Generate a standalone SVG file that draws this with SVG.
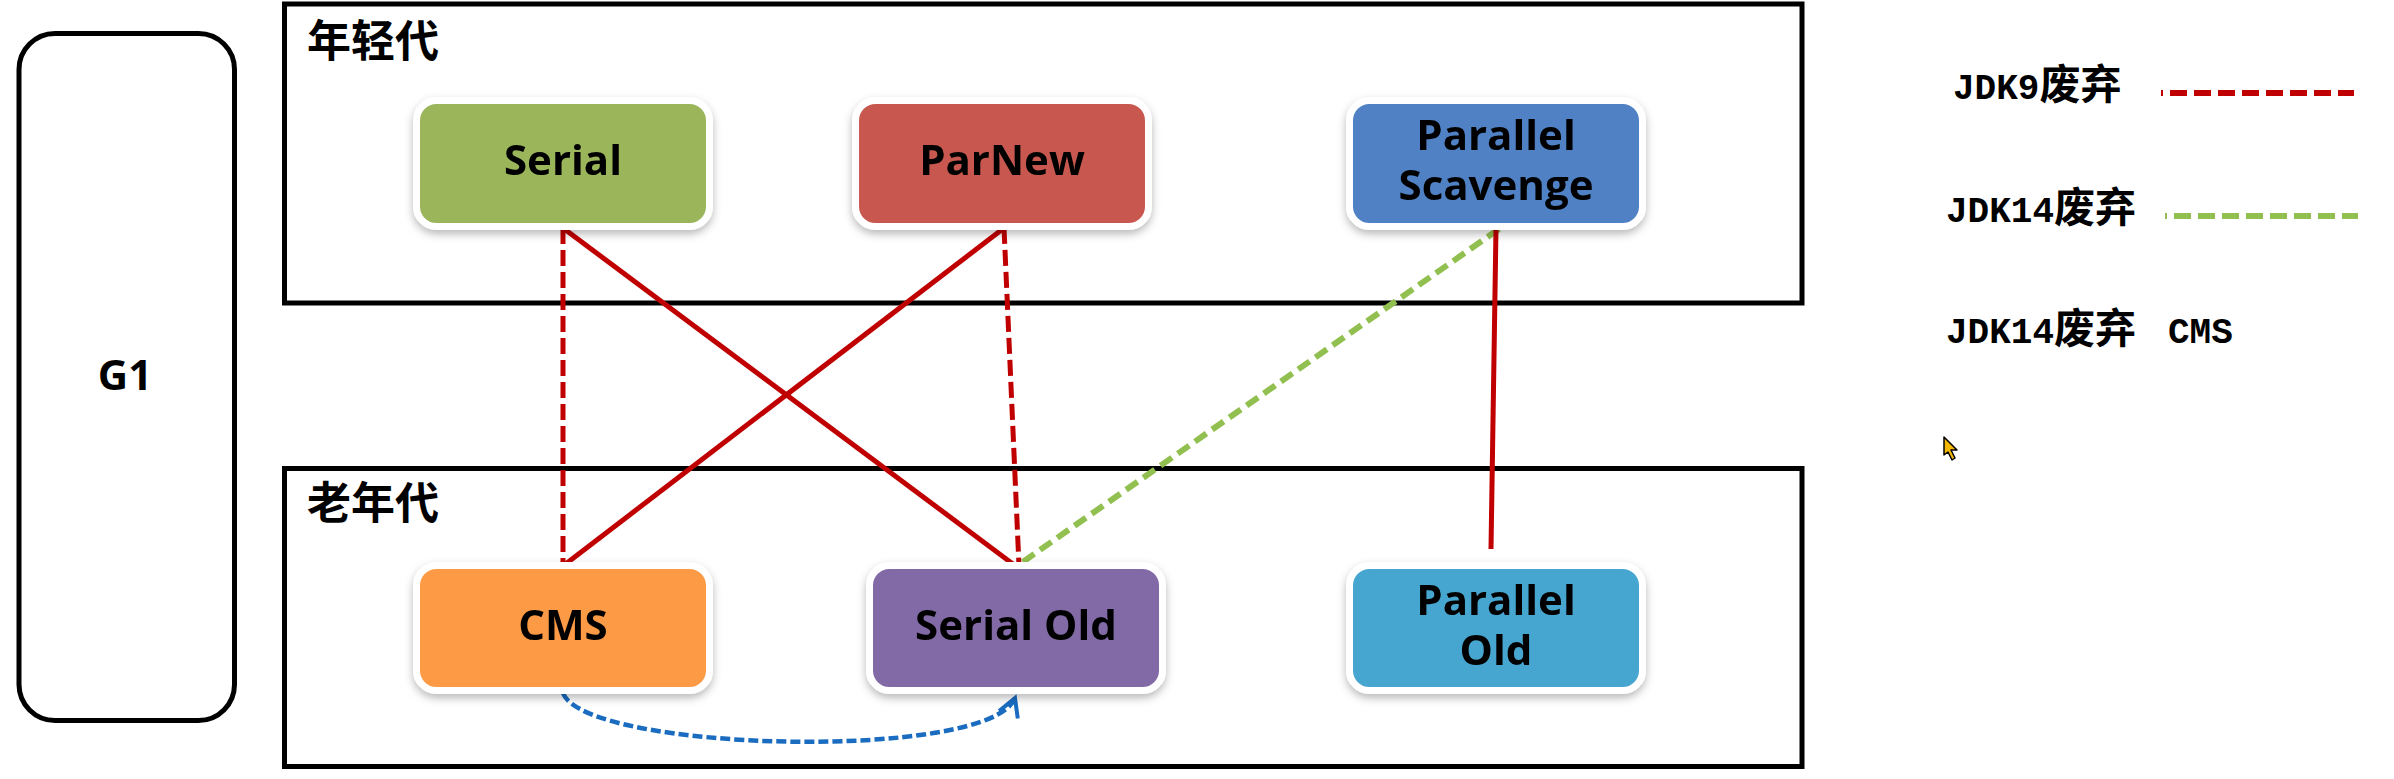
<svg xmlns="http://www.w3.org/2000/svg" width="2394" height="779" viewBox="0 0 2394 779">
  <defs>
    <filter id="shadow" x="-10%" y="-10%" width="120%" height="130%">
      <feDropShadow dx="0" dy="4" stdDeviation="4" flood-color="#000" flood-opacity="0.28"/>
    </filter>
    <marker id="openArrow" viewBox="0 0 24 24" refX="20" refY="12" markerWidth="24" markerHeight="24" markerUnits="userSpaceOnUse" orient="auto">
      <polyline points="2,2 20,12 2,22" fill="none" stroke="#1a6cc0" stroke-width="4" stroke-linejoin="miter"/>
    </marker>
    <style>
      .frame { fill: none; stroke: #000; stroke-width: 5; }
      .node rect { stroke: #fff; stroke-width: 7; }
      .label { font-family: "Open Sans", "Noto Sans", "Liberation Sans", sans-serif; font-weight: 700; font-size: 42px; fill: #000; text-anchor: middle; }
      .zone { font-family: "Noto Sans CJK SC", "Noto Sans", sans-serif; font-weight: 700; font-size: 44px; fill: #000; }
      .legend { font-family: "Liberation Mono", "Noto Sans CJK SC", monospace; font-weight: 700; font-size: 36px; fill: #000; }
      .legend .cjk { font-family: "Noto Sans CJK SC", sans-serif; font-size: 41px; }
      .solid { stroke: #c00000; stroke-width: 5; fill: none; }
      .dash9 { stroke: #c00000; stroke-width: 5; fill: none; stroke-dasharray: 16 6; }
      .dash14 { stroke: #92c050; stroke-width: 6; fill: none; stroke-dasharray: 14 7; }
      .blue { stroke: #1a6cc0; stroke-width: 4.5; fill: none; stroke-dasharray: 10 4; }
    </style>
  </defs>
  <rect width="2394" height="779" fill="#fff"/>

  <!-- G1 -->
  <g id="g1">
    <rect class="frame" x="19" y="33.5" width="215.5" height="687" rx="36" ry="36" stroke-width="5.5"/>
    <text class="label" x="125" y="390" font-size="40">G1</text>
  </g>

  <!-- Young generation -->
  <g id="young-gen">
    <rect class="frame" x="284.5" y="4" width="1517.5" height="299"/>
    <text class="zone" x="307" y="57">年轻代</text>
  </g>

  <!-- Old generation -->
  <g id="old-gen">
    <rect class="frame" x="284.5" y="468.5" width="1517.5" height="298"/>
    <text class="zone" x="307" y="519">老年代</text>
  </g>

  <!-- Connectors -->
  <g id="connectors">
    <line class="dash9" x1="563" y1="228" x2="563" y2="566"/>
    <line class="solid" x1="563" y1="228" x2="1017" y2="567"/>
    <line class="solid" x1="1004" y1="228" x2="563" y2="566"/>
    <line class="dash9" x1="1004" y1="228" x2="1019" y2="566"/>
    <line class="dash14" x1="1499" y1="229" x2="1017" y2="566"/>
    <line class="solid" x1="1496" y1="228" x2="1491" y2="549"/>
    <path class="blue" d="M563,693 C585,752 990,762 1015,698" marker-end="url(#openArrow)"/>
  </g>

  <!-- Nodes -->
  <g id="serial" class="node" filter="url(#shadow)">
    <rect x="416.5" y="100.5" width="293" height="126" rx="20" fill="#9bb55a"/>
    <text class="label" x="563" y="175">Serial</text>
  </g>
  <g id="parnew" class="node" filter="url(#shadow)">
    <rect x="855.5" y="100.5" width="293" height="126" rx="20" fill="#c8594f"/>
    <text class="label" x="1002" y="175">ParNew</text>
  </g>
  <g id="parallel-scavenge" class="node" filter="url(#shadow)">
    <rect x="1349.5" y="100.5" width="293" height="126" rx="20" fill="#4f81c4"/>
    <text class="label" x="1496" y="150">Parallel</text>
    <text class="label" x="1496" y="200">Scavenge</text>
  </g>
  <g id="cms" class="node" filter="url(#shadow)">
    <rect x="416.5" y="565.5" width="293" height="125" rx="20" fill="#fd9a45"/>
    <text class="label" x="563" y="640">CMS</text>
  </g>
  <g id="serial-old" class="node" filter="url(#shadow)">
    <rect x="869.5" y="565.5" width="293" height="125" rx="20" fill="#816aa5"/>
    <text class="label" x="1016" y="640">Serial Old</text>
  </g>
  <g id="parallel-old" class="node" filter="url(#shadow)">
    <rect x="1349.5" y="565.5" width="293" height="125" rx="20" fill="#46a6cf"/>
    <text class="label" x="1496" y="615">Parallel</text>
    <text class="label" x="1496" y="665">Old</text>
  </g>

  <!-- Legend -->
  <g id="legend-jdk9">
    <text class="legend" x="1953" y="99">JDK9<tspan class="cjk">废弃</tspan></text>
    <line x1="2161" y1="93" x2="2354" y2="93" stroke="#c00000" stroke-width="6" stroke-dasharray="17 7" stroke-dashoffset="15"/>
  </g>
  <g id="legend-jdk14">
    <text class="legend" x="1946" y="222">JDK14<tspan class="cjk">废弃</tspan></text>
    <line x1="2165" y1="216" x2="2358" y2="216" stroke="#92c050" stroke-width="6" stroke-dasharray="17 7" stroke-dashoffset="15"/>
  </g>
  <g id="legend-cms">
    <text class="legend" x="1946" y="343">JDK14<tspan class="cjk">废弃</tspan> <tspan x="2168">CMS</tspan></text>
  </g>

  <!-- cursor -->
  <polygon points="1944,437 1944,455 1948,452 1952,460 1955,458 1951,450 1957,450" fill="#f5b800" stroke="#000" stroke-width="1.5" stroke-linejoin="round"/>
</svg>
